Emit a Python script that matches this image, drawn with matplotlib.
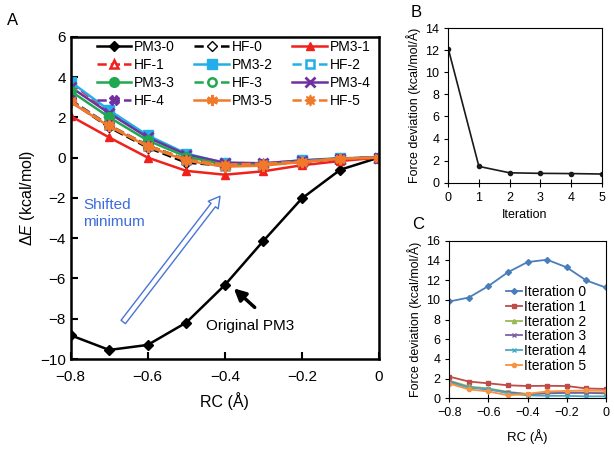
import numpy as np
import matplotlib
matplotlib.use('Agg')
import matplotlib.pyplot as plt

plt.rcParams['font.family'] = ['Liberation Sans', 'DejaVu Sans']
plt.rcParams['mathtext.fontset'] = 'custom'
plt.rcParams['mathtext.rm'] = 'Liberation Sans'
plt.rcParams['mathtext.it'] = 'Liberation Sans:italic'

# ---- data ----
rc = [-0.8, -0.7, -0.6, -0.5, -0.4, -0.3, -0.2, -0.1, 0.0]

pm3_0 = [-8.82, -9.55, -9.30, -8.19, -6.33, -4.14, -2.03, -0.60, 0.0]
hf_0 = [2.80, 1.50, 0.50, -0.25, -0.40, -0.35, -0.20, -0.05, 0.0]
pm3_1 = [2.06, 1.00, 0.00, -0.66, -0.85, -0.68, -0.38, -0.17, 0.0]
hf_1 = [3.70, 2.30, 1.05, 0.15, -0.30, -0.30, -0.15, -0.05, 0.0]
pm3_2 = [3.76, 2.35, 1.10, 0.20, -0.27, -0.30, -0.13, -0.03, 0.0]
hf_2 = [2.85, 1.60, 0.60, -0.10, -0.40, -0.35, -0.20, -0.05, 0.0]
pm3_3 = [3.30, 2.00, 0.85, 0.05, -0.35, -0.35, -0.20, -0.05, 0.0]
hf_3 = [2.85, 1.60, 0.60, -0.10, -0.38, -0.33, -0.20, -0.05, 0.0]
pm3_4 = [3.50, 2.20, 1.00, 0.15, -0.25, -0.28, -0.15, -0.05, 0.0]
hf_4 = [2.85, 1.60, 0.60, -0.10, -0.38, -0.33, -0.20, -0.05, 0.0]
pm3_5 = [2.75, 1.55, 0.55, -0.15, -0.45, -0.40, -0.22, -0.05, 0.0]
hf_5 = [2.80, 1.60, 0.60, -0.10, -0.35, -0.30, -0.20, -0.05, 0.0]

iters = [0, 1, 2, 3, 4, 5]
force_dev = [12.15, 1.48, 0.90, 0.85, 0.83, 0.79]

it_0 = [9.83, 10.23, 11.40, 12.80, 13.83, 14.07, 13.30, 11.97, 11.25]
it_1 = [2.20, 1.70, 1.52, 1.32, 1.25, 1.27, 1.25, 1.00, 0.95]
it_2 = [1.80, 1.20, 1.00, 0.65, 0.45, 0.55, 0.60, 0.60, 0.55]
it_3 = [1.70, 1.10, 0.90, 0.60, 0.40, 0.50, 0.55, 0.55, 0.50]
it_4 = [1.60, 1.10, 0.95, 0.50, 0.30, 0.25, 0.25, 0.20, 0.20]
it_5 = [1.50, 0.90, 0.70, 0.30, 0.45, 0.70, 0.75, 0.80, 0.75]

minus = lambda v: str(v).replace('-', '\u2212')

fig = plt.figure(figsize=(6.14, 4.49), dpi=100)

# ---- panel A ----
axA = fig.add_axes([0.1151, 0.2004, 0.502, 0.7178])
red, blue, green, purple, orange = '#f0201c', '#22aee8', '#1fa84f', '#7030a0', '#f07a2a'
ms = 6
series = [
    ('PM3-0', pm3_0, dict(color='k', ls='-', marker='D', ms=5.5)),
    ('HF-0', hf_0, dict(color='k', ls='--', marker='D', ms=5.5, mfc='white')),
    ('PM3-1', pm3_1, dict(color=red, ls='-', marker='^', ms=ms)),
    ('HF-1', hf_1, dict(color=red, ls='--', marker='^', ms=ms, mfc='white', mew=1.8)),
    ('PM3-2', pm3_2, dict(color=blue, ls='-', marker='s', ms=ms + 1)),
    ('HF-2', hf_2, dict(color=blue, ls='--', marker='s', ms=ms, mfc='white', mew=1.8)),
    ('PM3-3', pm3_3, dict(color=green, ls='-', marker='o', ms=ms + 1)),
    ('HF-3', hf_3, dict(color=green, ls='--', marker='o', ms=ms, mfc='white', mew=1.8)),
    ('PM3-4', pm3_4, dict(color=purple, ls='-', marker='x', ms=ms + 1, mew=2)),
    ('HF-4', hf_4, dict(color=purple, ls='--', marker='X', ms=ms + 1)),
    ('PM3-5', pm3_5, dict(color=orange, ls='-', marker=(6, 2, 0), ms=ms + 2, mew=2)),
    ('HF-5', hf_5, dict(color=orange, ls='--', marker=(8, 1, 0), ms=ms + 2)),
]
draw_order = [0, 1, 3, 5, 7, 4, 8, 6, 9, 2, 10, 11]
handles = {}
for i in draw_order:
    name, vals, kw = series[i]
    ln, = axA.plot(rc, vals, lw=1.8, label=name, **kw)
    handles[i] = ln

# legend: the reference reads row-wise across 3 columns
cols = [[0, 3, 6, 9], [1, 4, 7, 10], [2, 5, 8, 11]]
order = [i for c in cols for i in c]
axA.legend([handles[i] for i in order], [series[i][0] for i in order],
           ncol=3, loc='upper left', bbox_to_anchor=(0.075, 1.0),
           borderaxespad=0.0, borderpad=0.2,
           frameon=False, fontsize=10, handlelength=2.5, handletextpad=0.2,
           columnspacing=1.4, labelspacing=0.3)

axA.set_xlim(-0.8, 0)
axA.set_ylim(-10, 6)
axA.set_xticks([-0.8, -0.6, -0.4, -0.2, 0])
axA.set_xticklabels([minus(v) for v in [-0.8, -0.6, -0.4, -0.2, 0]])
axA.set_yticks(range(-10, 7, 2))
axA.set_yticklabels([minus(v) for v in range(-10, 7, 2)])
axA.tick_params(direction='in', length=5, width=1.5, labelsize=11)
axA.tick_params(axis='x', pad=8)
for s in axA.spines.values():
    s.set_linewidth(1.8)
axA.set_xlabel('RC (\u00c5)', fontsize=11.5, labelpad=6)
axA.set_ylabel(r'$\Delta\mathit{E}$ (kcal/mol)', fontsize=11.5, labelpad=2)

axA.annotate('', xy=(-0.408, -1.81), xytext=(-0.668, -8.27),
             arrowprops=dict(arrowstyle='simple,head_width=0.9,head_length=0.8,tail_width=0.4',
                             fc='white', ec='#4a74d8', lw=1.0))
axA.text(-0.767, -2.0, 'Shifted\nminimum', color='#3c6cdc', fontsize=11,
         va='top', ha='left', linespacing=1.3)
axA.annotate('', xy=(-0.382, -6.40), xytext=(-0.317, -7.53),
             arrowprops=dict(arrowstyle='-|>,head_width=0.35,head_length=0.7',
                             fc='k', ec='k', lw=2.5))
axA.text(-0.334, -8.36, 'Original PM3', fontsize=11, ha='center', va='center')
fig.text(0.012, 0.955, 'A', fontsize=12, ha='left', va='center')

# ---- panel B ----
axB = fig.add_axes([0.730, 0.593, 0.2498, 0.3445])
axB.plot(iters, force_dev, color='#1a1a1a', lw=1.2, marker='o', ms=3)
axB.set_xlim(0, 5)
axB.set_ylim(0, 14)
axB.set_yticks(range(0, 15, 2))
axB.set_xticks(iters)
axB.tick_params(axis='x', direction='inout', length=6, labelsize=9)
axB.tick_params(axis='y', direction='out', length=3, labelsize=9)
axB.set_xlabel('Iteration', fontsize=9)
axB.set_ylabel('Force deviation (kcal/mol/\u00c5)', fontsize=9, labelpad=3)
fig.text(0.669, 0.973, 'B', fontsize=12, ha='left', va='center')

# ---- panel C ----
axC = fig.add_axes([0.7318, 0.1129, 0.2547, 0.351])
c_series = [
    ('Iteration 0', it_0, '#4a7ebb', 'D'),
    ('Iteration 1', it_1, '#be4b48', 's'),
    ('Iteration 2', it_2, '#98b954', '^'),
    ('Iteration 3', it_3, '#7d60a0', 'x'),
    ('Iteration 4', it_4, '#46aac5', 'x'),
    ('Iteration 5', it_5, '#f69240', 'o'),
]
for name, vals, col, mk in c_series:
    axC.plot(rc, vals, color=col, lw=1.3, marker=mk, ms=3, label=name)
axC.legend(loc='center left', bbox_to_anchor=(0.36, 0.44), frameon=False,
           fontsize=10, handlelength=1.2, handletextpad=0.1, labelspacing=0.05,
           borderpad=0.0, borderaxespad=0.0)
axC.set_xlim(-0.8, 0)
axC.set_ylim(0, 16)
axC.set_xticks([-0.8, -0.6, -0.4, -0.2, 0])
axC.set_xticklabels([minus(v) for v in [-0.8, -0.6, -0.4, -0.2, 0]])
axC.set_yticks(range(0, 17, 2))
axC.tick_params(axis='x', direction='inout', length=6, labelsize=9)
axC.tick_params(axis='y', direction='out', length=3, labelsize=9)
axC.set_xlabel('RC (\u00c5)', fontsize=9.5, labelpad=7)
axC.set_ylabel('Force deviation (kcal/mol/\u00c5)', fontsize=9, labelpad=3)
fig.text(0.671, 0.499, 'C', fontsize=12, ha='left', va='center')

fig.savefig('out.png', dpi=100)
